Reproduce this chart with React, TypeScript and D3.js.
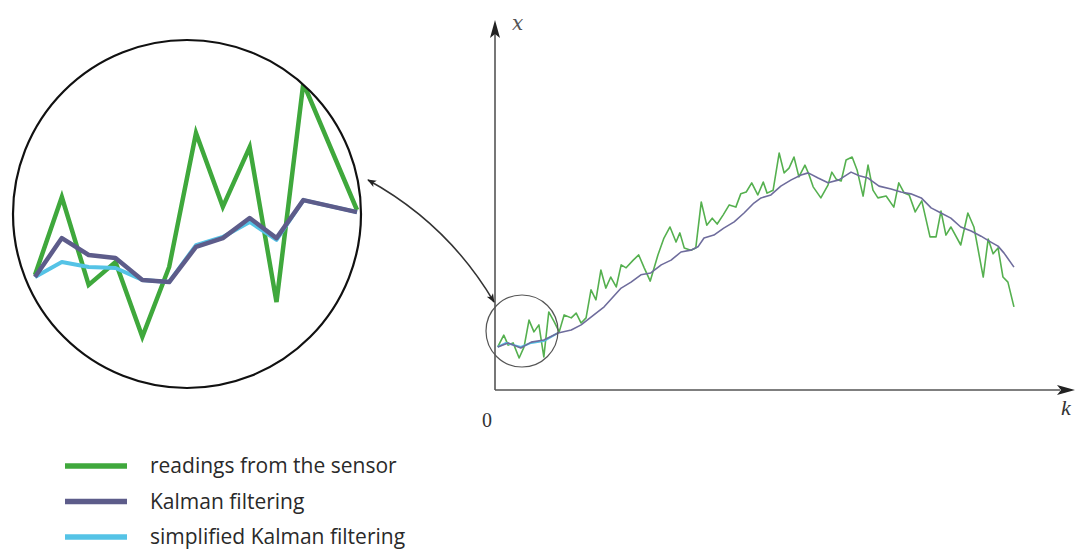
import React from "react";
import * as d3 from "d3";

// ---------- main chart data (t = time step, v = x value) ----------
const sensorT = [0.5,1.6,2.4,3.3,4.4,5.3,6.2,7.1,8.0,8.9,9.8,10.8,11.7,12.6,13.9,14.8,15.7,16.6,17.5,18.4,19.3,20.2,21.1,22.1,23.0,23.9,25.2,26.2,27.2,28.3,29.7,30.8,31.9,33.0,33.7,34.5,35.7,36.6,37.6,38.6,39.6,40.5,41.6,42.7,43.9,44.8,45.8,46.8,47.9,48.9,49.6,50.7,51.8,52.7,53.6,54.5,55.4,56.5,57.2,58.0,59.4,60.7,61.4,62.2,63.1,64.0,65.1,66.0,67.1,68.0,68.9,69.8,71.3,72.7,73.6,74.6,75.5,76.6,77.8,79.3,80.4,81.3,82.2,83.1,84.9,86.2,87.3,89.0,89.9,90.8,91.7,92.6,93.5,94.6];
const sensorV = [11.7,14.9,12.2,12.8,8.7,11.7,19.0,15.8,17.7,9.0,21.2,18.5,15.8,20.4,19.6,20.9,18.2,19.6,27.2,24.5,32.6,27.7,30.7,28.0,34.0,33.2,35.3,36.7,33.2,29.6,36.7,41.3,44.3,40.2,42.7,38.6,38.0,38.6,51.1,44.8,46.7,45.1,47.6,50.3,49.7,53.3,53.8,56.3,53.0,56.5,53.5,54.3,64.4,59.0,60.3,63.3,57.9,61.1,58.7,55.2,52.2,55.7,59.2,57.3,56.8,62.5,63.3,59.8,52.7,61.1,54.3,52.2,52.7,49.7,56.3,53.5,53.0,48.4,51.4,41.6,41.6,48.6,42.1,44.3,39.4,48.1,44.3,30.7,41.0,37.0,38.6,30.7,29.3,22.6];

const kalmanT = [0.5,2.4,4.7,6.6,8.9,11.5,13.9,15.7,17.5,19.9,23.0,24.8,26.6,28.4,30.3,32.1,33.9,35.7,37.0,38.1,39.9,41.7,43.6,45.4,47.2,48.5,50.3,52.1,54.0,55.8,57.1,58.9,60.7,62.7,64.9,66.4,68.0,70.0,72.2,74.0,75.8,77.7,79.5,81.3,83.1,84.9,86.8,88.6,90.4,91.7,92.8,94.6];
const kalmanV = [11.7,12.8,11.4,13.0,13.6,15.5,16.3,17.7,19.8,22.6,27.7,29.3,31.3,31.8,34.0,35.3,37.5,38.0,38.9,41.3,42.1,44.0,45.7,48.1,50.8,52.2,53.0,55.4,57.1,58.4,59.0,57.6,56.3,57.1,59.2,58.2,57.6,55.4,54.6,53.8,53.3,52.2,49.5,48.1,46.7,44.3,43.2,41.8,40.2,39.1,37.2,33.4];

const simplifiedT = [0.5,2.0,3.5,4.7,6.6,8.9,11.5];
const simplifiedV = [11.7,12.8,12.2,11.7,12.8,13.3,15.5];

// ---------- inset (magnified start) data ----------
const insetStep = [0,1,2,3,4,5,6,7,8,9,10,12];
const insetSensor = [25,55,21.2,30,1.2,28.1,79.6,51.2,74.2,14.6,98.8,50];
const insetKalman = [24.2,39.2,32.7,31.5,23.1,22.3,35.8,39.2,46.9,39.2,53.8,49.2];
const insetSimplified = [24.2,30,28.1,27.7,23.1,22.3,36.5,39.6,45.4,38.5,53.8,49.2];

// ---------- legend ----------
const legendLabels = ["readings from the sensor", "Kalman filtering", "simplified Kalman filtering"];

const GREEN = "#3fa83c";
const PURPLE = "#5d5c8a";
const CYAN = "#55c3e6";
const legendColors = [GREEN, PURPLE, CYAN];

export default function App() {
  const W = 1076, H = 549;
  const ox = 495, oy = 390;
  const xS = d3.scaleLinear().domain([0, 105]).range([ox, 1071]);
  const yS = d3.scaleLinear().domain([0, 100]).range([oy, 22]);

  const mainLine = (ts: number[], vs: number[]) =>
    d3.line<number>().x((_, i) => xS(ts[i])).y((d) => yS(d))(vs) || "";

  const ixS = d3.scaleLinear().domain([0, 12]).range([35, 357]);
  const iyS = d3.scaleLinear().domain([0, 100]).range([340, 80]);
  const insetLine = (vs: number[]) =>
    d3.line<number>().x((_, i) => ixS(insetStep[i])).y((d) => iyS(d))(vs) || "";

  const cx = 187, cy = 214, r = 174;

  // connector arrow between inset and small circle
  const p0 = [368, 180], c = [448, 224], p2 = [494, 302];
  const conn = d3.path();
  conn.moveTo(p0[0], p0[1]);
  conn.quadraticCurveTo(c[0], c[1], p2[0], p2[1]);

  return (
    <svg width={W} height={H} style={{ position: "absolute", left: 0, top: 0, background: "#fff" }}>
      <defs>
        <clipPath id="insetClip">
          <circle cx={cx} cy={cy} r={r} />
        </clipPath>
        <marker id="arr" viewBox="0 0 10 10" refX="9" refY="5" markerWidth="9" markerHeight="9" orient="auto-start-reverse" markerUnits="userSpaceOnUse">
          <path d="M0,1 L10,5 L0,9 L2.5,5 Z" fill="#222" />
        </marker>
      </defs>

      {/* axes */}
      <line x1={ox} y1={oy} x2={ox} y2={34} stroke="#555" strokeWidth={1.6} />
      <path d={`M${ox},20 L${ox - 5},38 L${ox},34 L${ox + 5},38 Z`} fill="#222" />
      <line x1={ox} y1={oy} x2={1060} y2={oy} stroke="#555" strokeWidth={1.6} />
      <path d={`M1075,${oy} L1057,${oy - 5} L1061,${oy} L1057,${oy + 5} Z`} fill="#222" />
      <text x={512} y={30} fontFamily="DejaVu Serif, serif" fontStyle="italic" fontSize={20} fill="#555">x</text>
      <text x={482} y={427} fontFamily="Liberation Serif, serif" fontSize={20} fill="#333">0</text>
      <text x={1061} y={415} fontFamily="Liberation Serif, serif" fontStyle="italic" fontSize={22} fill="#333">k</text>

      {/* main series */}
      <path d={mainLine(sensorT, sensorV)} fill="none" stroke="#55b04f" strokeWidth={1.6} strokeLinejoin="round" />
      <path d={mainLine(simplifiedT, simplifiedV)} fill="none" stroke={CYAN} strokeWidth={2} strokeLinejoin="round" />
      <path d={mainLine(kalmanT, kalmanV)} fill="none" stroke="#6e6c9c" strokeWidth={1.6} strokeLinejoin="round" />

      {/* small circle */}
      <circle cx={522} cy={331} r={36} fill="none" stroke="#555" strokeWidth={1.2} />

      {/* inset */}
      <g clipPath="url(#insetClip)">
        <path d={insetLine(insetSensor)} fill="none" stroke={GREEN} strokeWidth={4.5} strokeLinejoin="miter" />
        <path d={insetLine(insetSimplified)} fill="none" stroke={CYAN} strokeWidth={4} strokeLinejoin="round" />
        <path d={insetLine(insetKalman)} fill="none" stroke={PURPLE} strokeWidth={4.5} strokeLinejoin="round" />
      </g>
      <circle cx={cx} cy={cy} r={r} fill="none" stroke="#111" strokeWidth={2.2} />

      {/* connector */}
      <path d={conn.toString()} fill="none" stroke="#333" strokeWidth={1.5} markerStart="url(#arr)" markerEnd="url(#arr)" />

      {/* legend */}
      {legendLabels.map((lab, i) => {
        const y = 466 + i * 35.5;
        return (
          <g key={lab}>
            <line x1={65} x2={127} y1={y} y2={y} stroke={legendColors[i]} strokeWidth={5.5} />
            <text x={150} y={y + 7} fontFamily="Open Sans, sans-serif" fontSize={21} fill="#2a2a2a">{lab}</text>
          </g>
        );
      })}
    </svg>
  );
}
